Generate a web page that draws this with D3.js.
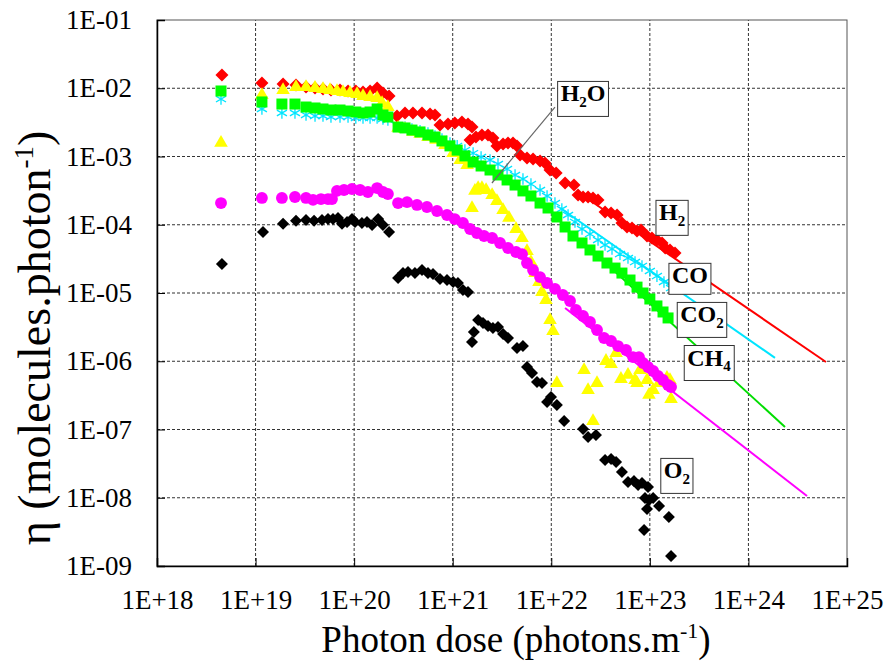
<!DOCTYPE html>
<html>
<head>
<meta charset="utf-8">
<script src="https://cdn.jsdelivr.net/npm/d3@7"></script>
<style>
body { margin: 0; background: #fff; }
text { font-family: "Liberation Serif", "Times New Roman", serif; }
</style>
</head>
<body>
<div id="chart"></div>
<script>
// axis ticks
const doseTicks = [1e18, 1e19, 1e20, 1e21, 1e22, 1e23, 1e24, 1e25];
const doseTickLabels = ["1E+18", "1E+19", "1E+20", "1E+21", "1E+22", "1E+23", "1E+24", "1E+25"];
const etaTicks = [1e-1, 1e-2, 1e-3, 1e-4, 1e-5, 1e-6, 1e-7, 1e-8, 1e-9];
const etaTickLabels = ["1E-01", "1E-02", "1E-03", "1E-04", "1E-05", "1E-06", "1E-07", "1E-08", "1E-09"];

// measured points [photon dose, eta]
const h2Points = [
  [4.56e18,1.56e-2],[1.16e19,1.19e-2],[1.90e19,1.15e-2],[2.57e19,1.12e-2],[3.25e19,1.04e-2],[4.01e19,1.01e-2],
  [4.83e19,9.75e-3],[5.82e19,9.42e-3],[7.19e19,9.42e-3],[8.67e19,9.12e-3],[1.04e20,9.12e-3],[1.23e20,8.81e-3],
  [1.45e20,9.12e-3],[1.71e20,1.01e-2],[1.96e20,8.51e-3],[2.26e20,7.69e-3],
  [2.72e20,3.92e-3],[3.28e20,4.34e-3],[3.95e20,4.34e-3],[4.88e20,4.34e-3],[5.89e20,4.2e-3],[6.61e20,4.06e-3],
  [7.43e20,2.9e-3],[8.96e20,2.99e-3],[1.05e21,3.1e-3],[1.24e21,3.21e-3],[1.43e21,2.99e-3],[1.57e21,2.7e-3],
  [1.5e21,1.75e-3],[1.72e21,1.93e-3],[1.98e21,2.07e-3],[2.28e21,2.07e-3],[2.56e21,1.87e-3],
  [2.81e21,1.43e-3],[3.24e21,1.52e-3],[3.64e21,1.58e-3],[4.09e21,1.58e-3],[4.49e21,1.43e-3],
  [4.82e21,1.05e-3],[5.67e21,9.5e-4],[6.53e21,9.19e-4],[7.69e21,8.59e-4],[8.64e21,8.04e-4],
  [9.71e21,6.34e-4],[1.12e22,5.73e-4],[1.38e22,4.09e-4],[1.70e22,3.82e-4],
  [1.87e22,2.73e-4],[2.10e22,2.55e-4],[2.36e22,2.55e-4],[2.65e22,2.47e-4],[2.98e22,2.31e-4],
  [3.51e22,1.54e-4],[4.04e22,1.49e-4],[4.65e22,1.39e-4],
  [5.21e22,1.06e-4],[5.86e22,9.27e-5],[6.59e22,8.95e-5],[7.41e22,8.09e-5],[8.13e22,8.38e-5],
  [9.36e22,6.84e-5],[1.05e23,6.4e-5],[1.18e23,5.98e-5],[1.33e23,5.41e-5],
  [1.43e23,4.56e-5],[1.60e23,4.27e-5],[1.80e23,3.85e-5]
];

const coPoints = [
  [4.46e18,6.95e-3],[1.16e19,4.97e-3],[1.85e19,4.34e-3],[2.51e19,4.34e-3],[3.25e19,4.06e-3],[4.01e19,3.92e-3],
  [4.83e19,3.92e-3],[5.82e19,3.79e-3],[7.19e19,3.79e-3],[8.67e19,3.79e-3],[1.04e20,3.66e-3],[1.23e20,3.66e-3],
  [1.45e20,3.66e-3],[1.71e20,3.66e-3],[1.96e20,3.54e-3],[2.2e20,3.43e-3],
  [2.79e20,2.8e-3],[3.28e20,2.7e-3],[3.86e20,2.53e-3],[4.66e20,2.37e-3],[5.61e20,2.21e-3],[6.61e20,2.0e-3],
  [7.78e20,1.8e-3],[9.38e20,1.58e-3],[1.11e21,1.43e-3],[1.33e21,1.24e-3],[1.61e21,1.12e-3],[1.94e21,9.84e-4],
  [2.39e21,8.89e-4],[2.88e21,7.76e-4],[3.56e21,6.56e-4],[4.29e21,5.36e-4],[5.16e21,4.68e-4],[6.22e21,3.95e-4],
  [7.69e21,3.23e-4],[9.06e21,2.64e-4],[1.09e22,2.08e-4],[1.28e22,1.7e-4],[1.48e22,1.39e-4],[1.74e22,1.1e-4],
  [2.05e22,8.67e-5],[2.47e22,7.31e-5],[2.98e22,5.98e-5],[3.51e22,5.05e-5],[4.13e22,4.42e-5],[4.98e22,3.72e-5],
  [6.0e22,3.26e-5],[7.07e22,2.84e-5],[8.32e22,2.49e-5],[1.0e23,2.1e-5],[1.18e23,1.77e-5],[1.39e23,1.45e-5],
  [1.64e23,1.18e-5]
];

const co2Points = [
  [4.46e18,9.12e-3],[1.16e19,6.3e-3],[1.85e19,5.87e-3],[2.51e19,5.87e-3],[3.25e19,5.31e-3],[4.01e19,5.14e-3],
  [4.83e19,4.97e-3],[5.82e19,4.8e-3],[7.19e19,4.8e-3],[8.67e19,4.64e-3],[1.04e20,4.49e-3],[1.23e20,4.34e-3],
  [1.45e20,4.49e-3],[1.71e20,4.97e-3],[1.96e20,4.06e-3],[2.2e20,3.79e-3],
  [2.79e20,2.7e-3],[3.28e20,2.62e-3],[3.86e20,2.44e-3],[4.66e20,2.29e-3],[5.61e20,2.07e-3],[6.61e20,1.93e-3],
  [7.78e20,1.69e-3],[9.38e20,1.43e-3],[1.11e21,1.24e-3],[1.33e21,1.02e-3],[1.61e21,8.3e-4],[1.94e21,7.26e-4],
  [2.39e21,6.34e-4],[2.88e21,5.36e-4],[3.56e21,4.53e-4],[4.29e21,3.82e-4],[5.16e21,3.13e-4],[6.22e21,2.64e-4],
  [7.69e21,2.08e-4],[9.27e21,1.76e-4],[1.14e22,1.3e-4],[1.38e22,9.27e-5],[1.66e22,6.84e-5],[2.05e22,5.41e-5],
  [2.47e22,4.27e-5],[2.98e22,3.48e-5],[3.67e22,2.75e-5],[4.43e22,2.32e-5],[5.21e22,1.96e-5],[6.29e22,1.55e-5],
  [7.41e22,1.22e-5],[8.53e22,1.0e-5],[1.0e23,8.17e-6],[1.18e23,6.46e-6],[1.36e23,5.27e-6],[1.53e23,4.31e-6]
];

const h2oPoints = [
  [4.46e18,1.58e-3],[1.16e19,7.96e-3],[1.90e19,9.42e-3],[2.57e19,1.04e-2],[3.25e19,1.04e-2],[4.01e19,1.01e-2],
  [4.83e19,9.75e-3],[5.69e19,9.42e-3],[6.7e19,9.12e-3],[7.71e19,8.81e-3],[9.08e19,8.51e-3],[1.07e20,8.24e-3],
  [1.23e20,7.69e-3],[1.45e20,7.45e-3],[1.71e20,7.19e-3],[1.92e20,6.08e-3],[2.2e20,5.31e-3],
  [2.79e20,2.62e-3],[3.28e20,2.53e-3],[3.95e20,2.29e-3],[4.66e20,2.14e-3],[5.61e20,1.93e-3],[6.77e20,1.75e-3],
  [8.35e20,1.47e-3],[1.01e21,1.12e-3],[1.19e21,8.89e-4],[1.40e21,7.5e-4],
  [1.57e21,1.76e-4],[1.68e21,3.13e-4],[1.81e21,3.45e-4],[1.98e21,3.45e-4],[2.18e21,3.23e-4],[2.51e21,2.73e-4],
  [2.81e21,2.23e-4],[3.24e21,1.64e-4],[3.72e21,1.26e-4],[4.39e21,8.67e-5],[5.05e21,6.4e-5],[5.67e21,4.12e-5],
  [6.22e21,2.84e-5],[6.84e21,1.96e-5],[7.5e21,1.45e-5],[8.05e21,1.03e-5],[8.84e21,7.89e-6],[9.71e21,4.02e-6],
  [1.04e22,2.77e-6],
  [1.14e22,4.8e-7],[2.15e22,7.45e-7],[2.36e22,3.79e-7],[2.65e22,1.33e-7],[2.91e22,4.8e-7],[3.59e22,1.01e-6],
  [4.04e22,9.12e-7],[4.54e22,1.32e-6],[5.09e22,5.5e-7],[6.0e22,6.3e-7],[7.07e22,5.31e-7],[7.41e22,4.8e-7],
  [7.94e22,7.45e-7],[9.36e22,5.31e-7],[9.8e22,3.21e-7],[1.08e23,3.79e-7],[1.24e23,4.8e-7],[1.49e23,5.69e-7],
  [1.60e23,5.31e-7],[1.64e23,2.8e-7]
];

const ch4Points = [
  [4.46e18,2.08e-4],[1.16e19,2.47e-4],[1.85e19,2.47e-4],[2.51e19,2.55e-4],[3.25e19,2.47e-4],[3.83e19,2.31e-4],
  [4.61e19,2.38e-4],[5.43e19,2.38e-4],[5.96e19,2.38e-4],[6.7e19,3.13e-4],[7.89e19,3.23e-4],[9.51e19,3.34e-4],
  [1.15e20,3.23e-4],[1.38e20,3.02e-4],[1.71e20,3.45e-4],[1.96e20,3.02e-4],[2.2e20,2.82e-4],
  [2.79e20,2.08e-4],[3.44e20,2.15e-4],[4.34e20,1.95e-4],[5.48e20,1.82e-4],[6.93e20,1.59e-4],[8.75e20,1.39e-4],
  [1.05e21,1.21e-4],[1.27e21,1.06e-4],[1.50e21,8.67e-5],[1.76e21,7.57e-5],[2.08e21,6.84e-5],[2.51e21,6.4e-5],
  [3.02e21,5.41e-5],[3.64e21,4.56e-5],[4.39e21,3.99e-5],[5.05e21,3.72e-5],[5.67e21,2.75e-5],[6.53e21,2.17e-5],
  [7.69e21,1.71e-5],[9.06e21,1.4e-5],[1.09e22,1.15e-5],[1.31e22,9.35e-6],[1.55e22,7.64e-6],[1.78e22,5.64e-6],
  [2.10e22,4.6e-6],[2.47e22,3.76e-6],[2.91e22,2.87e-6],[3.43e22,2.19e-6],[4.04e22,1.98e-6],[4.75e22,1.67e-6],
  [5.73e22,1.46e-6],[6.75e22,1.15e-6],[7.76e22,1.15e-6],[8.53e22,9.42e-7],[9.58e22,8.24e-7],[1.08e23,7.19e-7],
  [1.21e23,6.08e-7],[1.36e23,5.31e-7],[1.53e23,4.49e-7],[1.64e23,4.2e-7]
];

const o2Points = [
  [4.56e18,2.66e-5],[1.19e19,7.83e-5],[1.90e19,1.03e-4],[2.57e19,1.14e-4],[3.25e19,1.17e-4],[3.92e19,1.14e-4],
  [4.72e19,1.17e-4],[5.43e19,1.21e-4],[6.1e19,1.21e-4],[6.86e19,1.26e-4],[7.53e19,1.03e-4],[8.47e19,1.1e-4],
  [9.51e19,1.21e-4],[1.02e20,1.1e-4],[1.2e20,1.06e-4],[1.35e20,1.1e-4],[1.52e20,9.9e-5],[1.75e20,1.21e-4],
  [1.96e20,9.9e-5],[2.26e20,7.83e-5],
  [2.79e20,1.66e-5],[3.13e20,1.96e-5],[3.52e20,2.03e-5],[4.14e20,1.96e-5],[4.88e20,2.17e-5],[5.61e20,1.96e-5],
  [6.31e20,1.9e-5],[7.43e20,1.6e-5],[8.75e20,1.55e-5],[1.01e21,1.45e-5],[1.13e21,1.4e-5],[1.27e21,1.11e-5],
  [1.43e21,1.03e-5],
  [1.57e21,1.91e-6],[1.64e21,2.69e-6],[1.81e21,4.02e-6],[2.03e21,3.63e-6],[2.28e21,3.29e-6],[2.56e21,3.07e-6],
  [2.88e21,3.18e-6],[3.24e21,2.51e-6],[3.64e21,2.19e-6],[4.49e21,1.56e-6],[5.16e21,1.67e-6],[5.67e21,8.24e-7],
  [6.37e21,6.73e-7],[7.16e21,4.97e-7],[8.05e21,4.8e-7],[9.06e21,2.53e-7],[9.93e21,2.99e-7],[1.14e22,2.29e-7],
  [1.35e22,1.33e-7],[2.10e22,1.02e-7],[2.36e22,7.76e-8],[2.84e22,8.3e-8],[3.51e22,3.57e-8],[4.04e22,3.7e-8],
  [4.54e22,3.34e-8],[5.21e22,2.38e-8],[6.0e22,1.7e-8],[6.9e22,1.76e-8],[7.59e22,1.54e-8],[8.32e22,1.64e-8],
  [9.58e22,1.44e-8],[8.93e22,9.9e-9],[9.8e22,9.27e-9],[1.08e23,9.9e-9],[9.36e22,6.84e-9],[1.24e23,7.57e-9],
  [1.56e23,5.22e-9],[8.73e22,3.37e-9],[1.64e23,1.4e-9]
];

// power-law fits (end points)
const h2Fit = [[2.2e22, 2.55e-4], [6.12e24, 9.75e-7]];
const coFit = [[1.23e22, 1.76e-4], [1.86e24, 1.12e-6]];
const co2Fit = [[3.94e22, 2.4e-5], [2.35e24, 1.09e-7]];
const ch4Fit = [[1.38e22, 6.03e-6], [3.93e24, 1.06e-8]];

// gas labels, placed at [dose, eta]
const gasLabels = [
  { main: "H", sub: "2", tail: "", at: [1.68e23, 1.54e-4] },
  { main: "CO", sub: "", tail: "", at: [2.55e23, 1.84e-5] },
  { main: "CO", sub: "2", tail: "", at: [3.38e23, 4.92e-6] },
  { main: "CH", sub: "4", tail: "", at: [3.98e23, 1.15e-6] },
  { main: "O", sub: "2", tail: "", at: [1.88e23, 2.55e-8] },
  { main: "H", sub: "2", tail: "O", at: [2.1e22, 8.51e-3] }
];
const h2oLeader = [[1.09e22, 5.31e-3], [2.5e21, 4.09e-4]];

const width = 887, height = 669;
const svg = d3.select("#chart").append("svg")
    .attr("width", width)
    .attr("height", height);

const x = d3.scaleLog().domain([1e18, 1e25]).range([157, 847]);
const y = d3.scaleLog().domain([1e-9, 1e-1]).range([566, 20]);

// minor tick values
const minorDose = [];
doseTicks.slice(0, -1).forEach(d => { for (let m = 2; m <= 9; m++) minorDose.push(m * d); });
const minorEta = [];
etaTicks.slice(1).forEach(d => { for (let m = 2; m <= 9; m++) minorEta.push(m * d); });

// grid
const grid = svg.append("g").attr("class", "grid");
grid.selectAll(".vgrid")
    .data(doseTicks.slice(1, -1))
    .enter().append("line")
    .attr("x1", d => x(d)).attr("x2", d => x(d))
    .attr("y1", y(1e-9)).attr("y2", y(1e-1))
    .attr("stroke", "#333").attr("stroke-dasharray", "3,2");
grid.selectAll(".hgrid")
    .data(etaTicks.slice(1, -1))
    .enter().append("line")
    .attr("x1", x(1e18)).attr("x2", x(1e25))
    .attr("y1", d => y(d)).attr("y2", d => y(d))
    .attr("stroke", "#333").attr("stroke-dasharray", "3,2");

// frame top/right
svg.append("rect")
    .attr("x", x(1e18)).attr("y", y(1e-1))
    .attr("width", x(1e25) - x(1e18)).attr("height", y(1e-9) - y(1e-1))
    .attr("fill", "none").attr("stroke", "#555").attr("stroke-width", 1);

// axes
const xAxis = svg.append("g").attr("transform", `translate(0,${y(1e-9)})`);
xAxis.call(d3.axisBottom(x).tickValues(minorDose).tickSize(-5).tickFormat(""));
xAxis.call(d3.axisBottom(x).tickValues(doseTicks).tickSize(-8).tickPadding(24)
    .tickFormat((d, i) => doseTickLabels[i]));

const yAxis = svg.append("g").attr("transform", `translate(${x(1e18)},0)`);
yAxis.call(d3.axisLeft(y).tickValues(minorEta).tickSize(-6).tickFormat(""));
yAxis.call(d3.axisLeft(y).tickValues(etaTicks).tickSize(-8).tickPadding(25)
    .tickFormat((d, i) => etaTickLabels[i]));

svg.selectAll(".domain").attr("stroke", "#000").attr("stroke-width", 1.5);
svg.selectAll(".tick line").attr("stroke", "#000");
svg.selectAll(".tick text")
    .style("font-family", "'Liberation Serif', serif")
    .style("font-size", "27px")
    .attr("fill", "#000");

// axis titles
const xTitle = svg.append("text")
    .attr("x", 516).attr("y", 652)
    .attr("text-anchor", "middle")
    .style("font-size", "37px");
xTitle.append("tspan").text("Photon dose (photons.m");
xTitle.append("tspan").attr("dy", -14).style("font-size", "22px").text("-1");
xTitle.append("tspan").attr("dy", 14).text(")");

const yTitle = svg.append("text")
    .attr("transform", "translate(50,338) rotate(-90)")
    .attr("text-anchor", "middle")
    .style("font-size", "46px");
yTitle.append("tspan").text("η (molecules.photon");
yTitle.append("tspan").attr("dy", -17).style("font-size", "27px").text("-1");
yTitle.append("tspan").attr("dy", 17).text(")");

// fit lines
const fits = [
  { data: h2Fit, color: "#ff0000" },
  { data: coFit, color: "#00e5ff" },
  { data: co2Fit, color: "#00dd00" },
  { data: ch4Fit, color: "#ff00ff" }
];
const line = d3.line().x(d => x(d[0])).y(d => y(d[1]));
svg.append("g").selectAll("path")
    .data(fits)
    .enter().append("path")
    .attr("d", d => line(d.data))
    .attr("fill", "none")
    .attr("stroke", d => d.color)
    .attr("stroke-width", 2);

// markers
const diamond = r => `M0,${-r}L${r},0L0,${r}L${-r},0Z`;
const series = [
  { data: coPoints, color: "#00e5ff", path: d3.symbol(d3.symbolAsterisk, 95)(), stroke: true },
  { data: h2Points, color: "#ff0000", path: diamond(6.5) },
  { data: h2oPoints, color: "#ffff00", path: d3.symbol(d3.symbolTriangle, 80)() },
  { data: co2Points, color: "#00ff00", path: "M-5.5,-5.5H5.5V5.5H-5.5Z" },
  { data: ch4Points, color: "#ff00ff", path: d3.symbol(d3.symbolCircle, 110)() },
  { data: o2Points, color: "#000000", path: diamond(6) }
];
series.forEach(s => {
  svg.append("g").selectAll("path")
      .data(s.data)
      .enter().append("path")
      .attr("transform", d => `translate(${x(d[0])},${y(d[1])})`)
      .attr("d", s.path)
      .attr("fill", s.stroke ? "none" : s.color)
      .attr("stroke", s.stroke ? s.color : "none")
      .attr("stroke-width", 1.3);
});

// H2O leader line
svg.append("line")
    .attr("x1", x(h2oLeader[0][0])).attr("y1", y(h2oLeader[0][1]))
    .attr("x2", x(h2oLeader[1][0])).attr("y2", y(h2oLeader[1][1]))
    .attr("stroke", "#666").attr("stroke-width", 1.2);

// gas labels in boxes
gasLabels.forEach(l => {
  const g = svg.append("g")
      .attr("transform", `translate(${x(l.at[0])},${y(l.at[1])})`);
  const t = g.append("text")
      .attr("text-anchor", "middle")
      .attr("dy", "0.35em")
      .style("font-size", "24px")
      .style("font-weight", "bold");
  t.append("tspan").text(l.main);
  if (l.sub) t.append("tspan").attr("dy", 6).style("font-size", "15px").text(l.sub);
  if (l.tail) t.append("tspan").attr("dy", -6).text(l.tail);
  const b = t.node().getBBox();
  g.insert("rect", "text")
      .attr("x", b.x - 3).attr("y", b.y + 1)
      .attr("width", b.width + 6).attr("height", b.height + 5)
      .attr("fill", "#fff")
      .attr("stroke", "#333").attr("stroke-width", 1);
});
</script>
</body>
</html>
